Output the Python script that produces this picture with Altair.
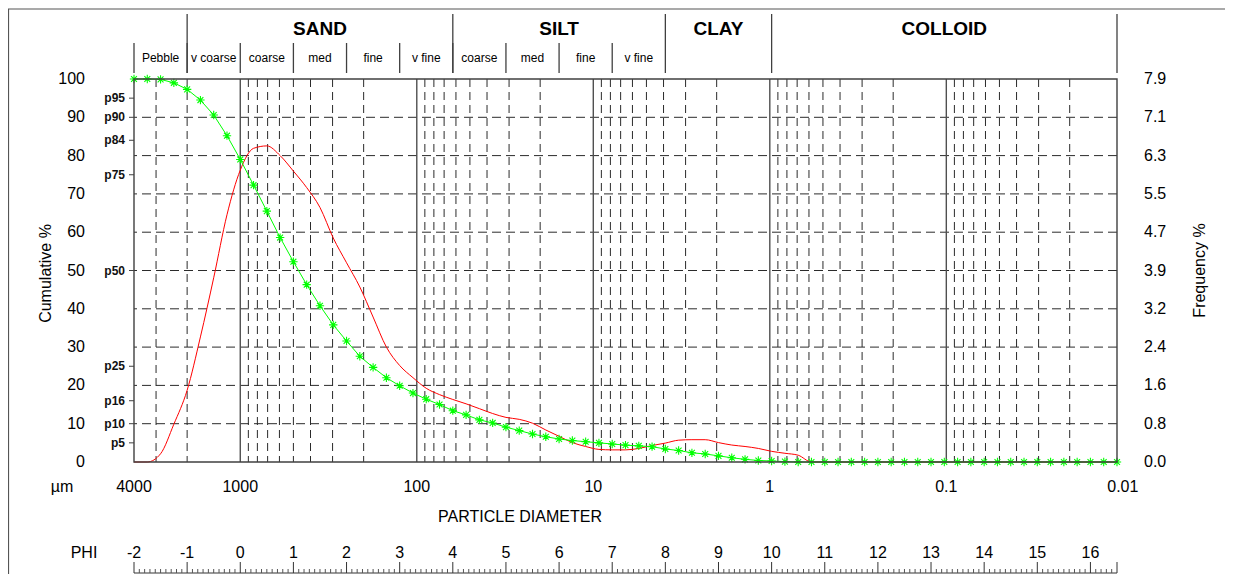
import altair as alt
import pandas as pd

FONT = "Liberation Sans"
NARROW = "Liberation Sans Narrow, Arial Narrow, Liberation Sans"

# ---------------- data ----------------
PHI = [-2.0, -1.75, -1.5, -1.25, -1.0, -0.75, -0.5, -0.25, 0.0, 0.25, 0.5, 0.75,
       1.0, 1.25, 1.5, 1.75, 2.0, 2.25, 2.5, 2.75, 3.0, 3.25, 3.5, 3.75,
       4.0, 4.25, 4.5, 4.75, 5.0, 5.25, 5.5, 5.75, 6.0, 6.25, 6.5, 6.75,
       7.0, 7.25, 7.5, 7.75, 8.0, 8.25, 8.5, 8.75, 9.0, 9.25, 9.5, 9.75,
       10.0, 10.25, 10.5, 10.75, 11.0, 11.25, 11.5, 11.75, 12.0, 12.25, 12.5, 12.75,
       13.0, 13.25, 13.5, 13.75, 14.0, 14.25, 14.5, 14.75, 15.0, 15.25, 15.5, 15.75,
       16.0, 16.25, 16.5]

CUMULATIVE = [100, 100, 99.9, 99.0, 97.3, 94.5, 90.6, 85.2, 79.0, 72.3, 65.5, 58.6,
              52.3, 46.3, 40.8, 35.8, 31.6, 27.6, 24.7, 22.0, 19.9, 18.0, 16.4, 15.0,
              13.4, 12.3, 11.0, 10.2, 9.1, 8.2, 7.3, 6.6, 6.0, 5.6, 5.3, 5.0,
              4.7, 4.4, 4.2, 4.0, 3.4, 3.0, 2.4, 2.1, 1.6, 1.1, 0.7, 0.4,
              0.26, 0.1, 0, 0, 0, 0, 0, 0, 0, 0, 0, 0,
              0, 0, 0, 0, 0, 0, 0, 0, 0, 0, 0, 0,
              0, 0, 0]

FREQUENCY = [0, 0, 0.17, 0.78, 1.48, 2.58, 3.8, 5.1, 6.02, 6.47, 6.52, 6.32,
             6.0, 5.66, 5.25, 4.62, 4.11, 3.61, 2.99, 2.37, 1.99, 1.74, 1.52, 1.39,
             1.29, 1.20, 1.10, 1.0, 0.92, 0.88, 0.80, 0.66, 0.53, 0.40, 0.32, 0.26,
             0.25, 0.25, 0.28, 0.34, 0.39, 0.45, 0.46, 0.46, 0.40, 0.35, 0.32, 0.28,
             0.22, 0.18, 0.14, 0, 0, 0, 0, 0, 0, 0, 0, 0,
             0, 0, 0, 0, 0, 0, 0, 0, 0, 0, 0, 0,
             0, 0, 0]

PCT_TICKS = [0, 10, 20, 30, 40, 50, 60, 70, 80, 90, 100]
FREQ_MAX = 7.9
FREQ_TICKS = [0, 0.79, 1.58, 2.37, 3.16, 3.95, 4.74, 5.53, 6.32, 7.11, 7.9]
FREQ_LABELS = ["0.0", "0.8", "1.6", "2.4", "3.2", "3.9", "4.7", "5.5", "6.3", "7.1", "7.9"]
P_LABELS = ["p5", "p10", "p16", "p25", "p50", "p75", "p84", "p90", "p95"]
P_VALUES = [5, 10, 16, 25, 50, 75, 84, 90, 95]
UM_LABELS = ["4000", "1000", "100", "10", "1", "0.1", "0.01"]
UM_VALUES = [4000, 1000, 100, 10, 1, 0.1, 0.01]
DECADES = [1000, 100, 10, 1, 0.1]
PHI_LABELS = [-2, -1, 0, 1, 2, 3, 4, 5, 6, 7, 8, 9, 10, 11, 12, 13, 14, 15, 16]
PHI_END = 16.5

MAIN_CLASSES = ["SAND", "SILT", "CLAY", "COLLOID"]
MAIN_FROM = [-1, 4, 8, 10]
MAIN_TO = [4, 8, 10, 16.5]
SUB_CLASSES = ["Pebble", "v coarse", "coarse", "med", "fine", "v fine",
               "coarse", "med", "fine", "v fine"]
SUB_FROM = [-2, -1, 0, 1, 2, 3, 4, 5, 6, 7]
SUB_TO = [-1, 0, 1, 2, 3, 4, 5, 6, 7, 8]

# ---------------- derived tables ----------------
curve = pd.DataFrame({"phi": PHI, "cum": CUMULATIVE, "freq": FREQUENCY})
grid_um = [m * d for d in [1000, 100, 10, 1, 0.1, 0.01] for m in range(2, 10) if m * d < 4000]
minor_phi = [i / 10 for i in range(-20, 165) if i % 10 != 0]

W, H = 983, 383
XS = alt.Scale(domain=[-2, PHI_END], nice=False, zero=False)
YC = alt.Scale(domain=[0, 100], nice=False, zero=True)
YF = alt.Scale(domain=[0, FREQ_MAX], nice=False, zero=True)
TO_PHI = "-log(datum.um/1000)/LN2"
DARK = "#2b2b2b"
SOLID = "#505050"
GREEN = "#00ff00"


def X(field="phi"):
    return alt.X(f"{field}:Q", scale=XS, axis=None)


# grid
hgrid = alt.Chart(pd.DataFrame({"v": PCT_TICKS[1:-1]})).mark_rule(
    color=DARK, strokeWidth=1, strokeDash=[9, 5]
).encode(y=alt.Y("v:Q", scale=YC, axis=None))

vgrid = alt.Chart(pd.DataFrame({"um": grid_um})).transform_calculate(phi=TO_PHI).mark_rule(
    color=DARK, strokeWidth=1, strokeDash=[8, 5]
).encode(x=X())

vdec = alt.Chart(pd.DataFrame({"um": DECADES})).transform_calculate(phi=TO_PHI).mark_rule(
    color=SOLID, strokeWidth=1.4
).encode(x=X())

# series
red = alt.Chart(curve).mark_line(color="#ff0000", strokeWidth=1, interpolate="monotone").encode(
    x=X(), y=alt.Y("freq:Q", scale=YF, axis=None)
)
green_line = alt.Chart(curve).mark_line(color=GREEN, strokeWidth=1).encode(
    x=X(), y=alt.Y("cum:Q", scale=YC, axis=None)
)
STAR = "M-1,0L1,0M0,-1L0,1M-0.7,-0.7L0.7,0.7M-0.7,0.7L0.7,-0.7"
green_pts = alt.Chart(curve).mark_point(
    shape=STAR, color=GREEN, size=70, strokeWidth=1.1, filled=False, opacity=1
).encode(x=X(), y=alt.Y("cum:Q", scale=YC, axis=None))

# frame of plot area
frame = alt.Chart(pd.DataFrame({"a": [0]})).mark_rect(
    fill="transparent", stroke="#404040", strokeWidth=1.4
).encode(x=alt.value(0), x2=alt.value(W), y=alt.value(0), y2=alt.value(H))

# left axis
left_lab = alt.Chart(pd.DataFrame({"v": PCT_TICKS, "t": [str(v) for v in PCT_TICKS]})).mark_text(
    font=FONT, fontSize=16, align="right", baseline="middle", color="#000"
).encode(y=alt.Y("v:Q", scale=YC, axis=None), x=alt.value(-49), text="t:N")

p_df = pd.DataFrame({"v": P_VALUES, "t": P_LABELS})
p_lab = alt.Chart(p_df).mark_text(
    font=FONT, fontSize=12, fontWeight="bold", align="right", baseline="middle", color="#111"
).encode(y=alt.Y("v:Q", scale=YC, axis=None), x=alt.value(-9), text="t:N")
p_tick = alt.Chart(p_df).mark_rule(color="#404040", strokeWidth=1).encode(
    y=alt.Y("v:Q", scale=YC, axis=None), x=alt.value(-5), x2=alt.value(0)
)

left_title = alt.Chart(pd.DataFrame({"t": ["Cumulative %"]})).mark_text(
    font=FONT, fontSize=16, angle=270, align="center", baseline="middle", color="#000"
).encode(x=alt.value(-88), y=alt.value(H / 2 + 3), text="t:N")

# right axis
right_lab = alt.Chart(pd.DataFrame({"v": FREQ_TICKS, "t": FREQ_LABELS})).mark_text(
    font=FONT, fontSize=16, align="left", baseline="middle", color="#000"
).encode(y=alt.Y("v:Q", scale=YF, axis=None), x=alt.value(W + 27), text="t:N")

right_title = alt.Chart(pd.DataFrame({"t": ["Frequency %"]})).mark_text(
    font=FONT, fontSize=16, angle=270, align="center", baseline="middle", color="#000"
).encode(x=alt.value(W + 83), y=alt.value(H / 2), text="t:N")

# bottom µm axis
um_lab = alt.Chart(pd.DataFrame({"um": UM_VALUES, "t": UM_LABELS})).transform_calculate(
    phi=TO_PHI
).mark_text(font=FONT, fontSize=16, align="center", baseline="middle", color="#000").encode(
    x=X(), y=alt.value(H + 25), text="t:N"
)
um_unit = alt.Chart(pd.DataFrame({"t": ["µm"]})).mark_text(
    font=FONT, fontSize=16, align="center", baseline="middle", color="#000"
).encode(x=alt.value(-72), y=alt.value(H + 25), text="t:N")
x_title = alt.Chart(pd.DataFrame({"t": ["PARTICLE DIAMETER"]})).mark_text(
    font=FONT, fontSize=16, align="center", baseline="middle", color="#000"
).encode(x=alt.value(386), y=alt.value(H + 55), text="t:N")

# PHI ruler
RULER_Y = H + 111
phi_df = pd.DataFrame({"phi": PHI_LABELS, "t": [str(p) for p in PHI_LABELS]})
phi_unit = alt.Chart(pd.DataFrame({"t": ["PHI"]})).mark_text(
    font=FONT, fontSize=16, align="center", baseline="middle", color="#000"
).encode(x=alt.value(-50), y=alt.value(RULER_Y - 20), text="t:N")
phi_lab = alt.Chart(phi_df).mark_text(
    font=FONT, fontSize=16, align="center", baseline="middle", color="#000"
).encode(x=X(), y=alt.value(RULER_Y - 20), text="t:N")
ruler_base = alt.Chart(pd.DataFrame({"a": [0]})).mark_rule(color="#333", strokeWidth=1).encode(
    x=alt.value(0), x2=alt.value(W), y=alt.value(RULER_Y)
)
ruler_major = alt.Chart(pd.DataFrame({"phi": PHI_LABELS + [PHI_END]})).mark_rule(
    color="#333", strokeWidth=1
).encode(x=X(), y=alt.value(RULER_Y - 11), y2=alt.value(RULER_Y))
ruler_minor = alt.Chart(pd.DataFrame({"phi": minor_phi})).mark_rule(
    color="#555", strokeWidth=1
).encode(x=X(), y=alt.value(RULER_Y - 4), y2=alt.value(RULER_Y))

# header
main_df = pd.DataFrame({"t": MAIN_CLASSES, "a": MAIN_FROM, "b": MAIN_TO})
main_df["mid"] = (main_df["a"] + main_df["b"]) / 2
sub_df = pd.DataFrame({"t": SUB_CLASSES, "a": SUB_FROM, "b": SUB_TO})
sub_df["mid"] = (sub_df["a"] + sub_df["b"]) / 2

main_sep = alt.Chart(pd.DataFrame({"phi": MAIN_FROM + [PHI_END]})).mark_rule(
    color="#404040", strokeWidth=1.3
).encode(x=X(), y=alt.value(-65), y2=alt.value(-6))
sub_sep = alt.Chart(pd.DataFrame({"phi": SUB_FROM})).mark_rule(
    color="#404040", strokeWidth=1.3
).encode(x=X(), y=alt.value(-36), y2=alt.value(-6))
main_txt = alt.Chart(main_df).mark_text(
    font=FONT, fontSize=19, fontWeight="bold", align="center", baseline="middle", color="#000"
).encode(x=X("mid"), y=alt.value(-50), text="t:N")
sub_txt = alt.Chart(sub_df).mark_text(
    font=NARROW, fontSize=12, align="center", baseline="middle", color="#000"
).encode(x=X("mid"), y=alt.value(-21), text="t:N")

# outer figure border (top and left)
border_top = alt.Chart(pd.DataFrame({"a": [0]})).mark_rule(color="#555", strokeWidth=1.2).encode(
    x=alt.value(-126), x2=alt.value(W + 108), y=alt.value(-70)
)
border_left = alt.Chart(pd.DataFrame({"a": [0]})).mark_rule(color="#555", strokeWidth=1.2).encode(
    x=alt.value(-125.5), y=alt.value(-70), y2=alt.value(H + 120)
)

chart = alt.layer(
    hgrid, vgrid, vdec, red, green_line, green_pts, frame,
    left_lab, p_lab, p_tick, left_title, right_lab, right_title,
    um_lab, um_unit, x_title,
    phi_unit, phi_lab, ruler_base, ruler_major, ruler_minor,
    main_sep, sub_sep, main_txt, sub_txt, border_top, border_left,
).resolve_scale(y="independent").properties(
    width=W, height=H,
    padding={"left": 126, "top": 71, "right": 108, "bottom": 112},
    autosize=alt.AutoSizeParams(type="none"),
    background="white",
).configure_view(stroke=None)

chart.save("out.html", embed_options={"renderer": "svg", "actions": False})
